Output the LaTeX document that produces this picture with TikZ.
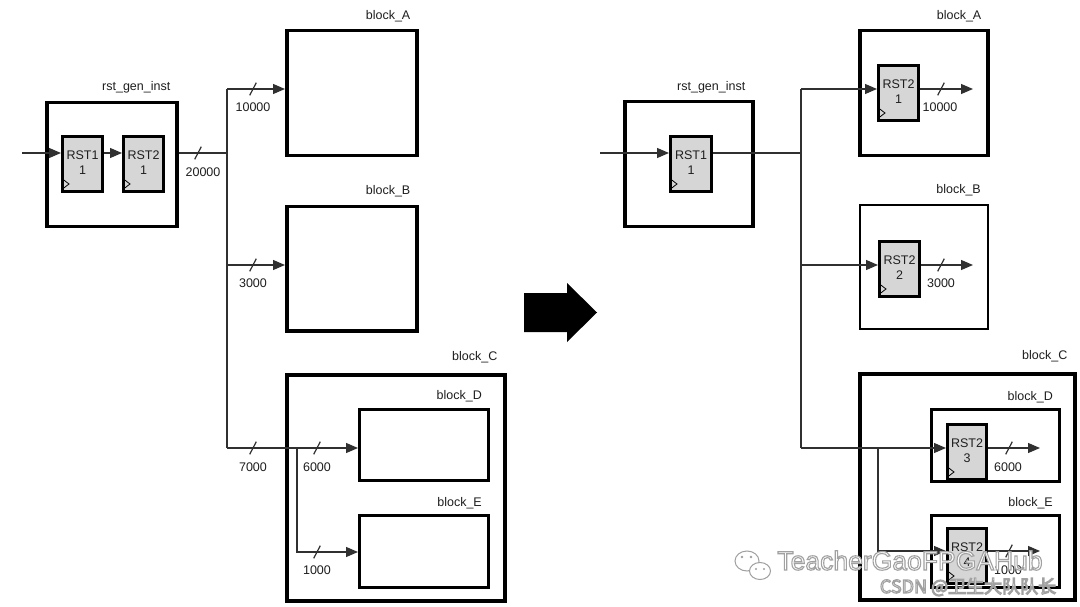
\documentclass[tikz,border=0pt]{standalone}
\usepackage{fontspec}
\setmainfont{Liberation Sans}
\newfontfamily\cjkfont{Noto Sans CJK SC}
\usetikzlibrary{arrows.meta,calc}
\definecolor{ink}{HTML}{1E1E1E}
\definecolor{ffgray}{HTML}{D6D6D6}
\definecolor{wirec}{HTML}{303030}
\definecolor{wmgray}{HTML}{A0A0A0}
\newcommand\fftext[2]{\raisebox{3pt}{\begin{tabular}{@{}c@{}}#1\\[0.5pt]#2\end{tabular}}}
\newcommand\clk[1]{\draw[line width=0.8pt] ([xshift=1.5pt,yshift=14pt]#1.south west) -- ([xshift=8pt,yshift=9pt]#1.south west) -- ([xshift=1.5pt,yshift=4pt]#1.south west);}
\newcommand\busslash[2]{\draw[wire] (#1-3.3,#2+6.3) -- (#1+3.3,#2-6.3);}
\newcommand\outlined[1]{\special{pdf:literal direct 2 Tr 1.1 w 0.63 G}#1\special{pdf:literal direct 0 Tr}}
\begin{document}
\begin{tikzpicture}[x=1pt,y=-1pt,
  font=\fontsize{12.5}{14}\selectfont,
  every node/.style={text=ink},
  blockbox/.style={draw=black, line width=3.5pt, inner sep=0pt, anchor=north west},
  subbox/.style={draw=black, line width=3pt, inner sep=0pt, anchor=north west},
  ffbox/.style={draw=black, fill=ffgray, line width=3pt, inner sep=0pt, anchor=north west, minimum width=40pt, minimum height=55pt},
  wire/.style={draw=wirec, line width=1.2pt},
  arr/.style={wire, -{Triangle[length=12pt,width=10pt]}},
  blabel/.style={anchor=east, inner sep=0pt},
  num/.style={inner sep=0pt},
  wmark/.style={anchor=base, inner sep=0pt, text=white}
]
\useasboundingbox (0,0) rectangle (1080,607);
\fill[white] (0,0) rectangle (1080,607);

% ================= LEFT =================
\node[blockbox, minimum width=130pt, minimum height=124pt] (G) at (45,101) {};
\node[blabel] at ([xshift=-8pt,yshift=13.5pt]G.north east) {rst\_gen\_inst};
\node[ffbox] (R1) at (61,135) {\fftext{RST1}{1}};
\node[ffbox] (R2) at (122,135) {\fftext{RST2}{1}};
\clk{R1}\clk{R2}

\node[blockbox, minimum width=130pt, minimum height=125pt] (A) at (285,29) {};
\node[blabel] at ([xshift=-8pt,yshift=13pt]A.north east) {block\_A};
\node[blockbox, minimum width=130pt, minimum height=124pt] (B) at (285,205) {};
\node[blabel] at ([xshift=-8pt,yshift=14pt]B.north east) {block\_B};
\node[blockbox, minimum width=218pt, minimum height=226pt] (C) at (285,373) {};
\node[blabel] at ([xshift=-9pt,yshift=15.5pt]C.north east) {block\_C};
\node[subbox, minimum width=129pt, minimum height=71pt] (D) at (358,408) {};
\node[blabel] at ([xshift=-8pt,yshift=11.5pt]D.north east) {block\_D};
\node[subbox, minimum width=129pt, minimum height=72pt] (E) at (358,514) {};
\node[blabel] at ([xshift=-8pt,yshift=11pt]E.north east) {block\_E};

\coordinate (in1) at (22,153);
\coordinate (J) at (227,153);
\coordinate (Ja) at (227,89);
\coordinate (Jb) at (227,265);
\coordinate (Jc) at (227,448);
\coordinate (Jd) at (297,448);
\coordinate (Je) at (297,552);

\draw[arr] (in1) -- (in1 -| R1.west);
\draw[arr] (R1.east |- in1) -- (R2.west |- in1);
\draw[wire] (G.east |- in1) -- (J);
\draw[wire] (Ja) -- (Jc);
\draw[arr] (Ja) -- (Ja -| A.west);
\draw[arr] (Jb) -- (Jb -| B.west);
\draw[arr] (Jc) -- (Jc -| D.west);
\draw[arr] (Jd) -- (Je) -- (Je -| E.west);

\busslash{198}{153}
\busslash{253}{89}
\busslash{253}{265}
\busslash{253}{448}
\busslash{317}{448}
\busslash{317}{552}
\node[num] (n20000) at (203,172) {20000};
\node[num] (n10000) at (253,107) {10000};
\node[num] (n3000) at (253,283) {3000};
\node[num] (n7000) at (253,467) {7000};
\node[num] (n6000) at (317,467) {6000};
\node[num] (n1000) at (317,570) {1000};

% ================= BIG ARROW =================
\fill[black] (524,293) -- (567,293) -- (567,283) -- (597,312.5) -- (567,342) -- (567,332) -- (524,332) -- cycle;

% ================= RIGHT =================
\node[blockbox, minimum width=128pt, minimum height=125pt] (G2) at (623,100) {};
\node[blabel] at ([xshift=-9pt,yshift=13pt]G2.north east) {rst\_gen\_inst};
\node[ffbox, minimum width=41pt] (S1) at (669,135) {\fftext{RST1}{1}};
\clk{S1}

\node[blockbox, minimum width=128pt, minimum height=125pt] (A2) at (858,29) {};
\node[blabel] at ([xshift=-8pt,yshift=13pt]A2.north east) {block\_A};
\node[ffbox] (SA) at (877,64) {\fftext{RST2}{1}};
\clk{SA}

\node[blockbox, line width=2pt, minimum width=128pt, minimum height=124pt] (B2) at (859,204) {};
\node[blabel] at ([xshift=-8pt,yshift=13.5pt]B2.north east) {block\_B};
\node[ffbox] (SB) at (878,240) {\fftext{RST2}{2}};
\clk{SB}

\node[blockbox, minimum width=215pt, minimum height=226pt] (C2) at (858,372) {};
\node[blabel] at ([xshift=-9pt,yshift=15.5pt]C2.north east) {block\_C};
\node[subbox, minimum width=128pt, minimum height=72pt] (D2) at (930,408) {};
\node[blabel] at ([xshift=-8pt,yshift=10.5pt]D2.north east) {block\_D};
\node[ffbox, minimum width=39pt] (SD) at (946,423) {\fftext{RST2}{3}};
\clk{SD}
\node[subbox, minimum width=128pt, minimum height=72pt] (E2) at (930,514) {};
\node[blabel] at ([xshift=-8pt,yshift=10.5pt]E2.north east) {block\_E};
\node[ffbox, minimum width=39pt] (SE) at (946,527) {\fftext{RST2}{4}};
\clk{SE}

\coordinate (in2) at (600,153);
\coordinate (K) at (801,153);
\coordinate (Ka) at (801,89);
\coordinate (Kb) at (801,265);
\coordinate (Kc) at (801,448);
\coordinate (Kd) at (878,448);
\coordinate (Ke) at (878,551);
\coordinate (oA) at (973,89);
\coordinate (oB) at (973,265);
\coordinate (oD) at (1040,448);
\coordinate (oE) at (1040,551);

\draw[arr] (in2) -- (in2 -| S1.west);
\draw[wire] (S1.east |- in2) -- (K);
\draw[wire] (Ka) -- (Kc);
\draw[arr] (Ka) -- (Ka -| SA.west);
\draw[arr] (Kb) -- (Kb -| SB.west);
\draw[arr] (Kc) -- (Kc -| SD.west);
\draw[arr] (Kd) -- (Ke) -- (Ke -| SE.west);
\draw[arr] (oA -| SA.east) -- (oA);
\draw[arr] (oB -| SB.east) -- (oB);
\draw[arr] (oD -| SD.east) -- (oD);
\draw[arr] (oE -| SE.east) -- (oE);

\busslash{941}{89}
\busslash{941}{265}
\busslash{1009}{448}
\busslash{1009}{551}
\node[num] (m10000) at (940,107) {10000};
\node[num] (m3000) at (941,283) {3000};
\node[num] (m6000) at (1008,467) {6000};
\node[num] (m1000) at (1008,570) {1000};

% ================= WATERMARK =================
\begin{scope}[draw=wmgray, line width=1pt]
  \draw[fill=white] (747,561) ellipse [x radius=12, y radius=10];
  \fill[wmgray] (742,557) circle (1.3); \fill[wmgray] (751,557) circle (1.3);
  \draw[fill=white] (760,571) ellipse [x radius=10.5, y radius=8.5];
  \fill[wmgray] (756,569) circle (1.1); \fill[wmgray] (764,569) circle (1.1);
\end{scope}
\node[wmark, font=\fontsize{26.5}{30}\selectfont] (wm1) at (910,570) {\outlined{TeacherGaoFPGAHub}};
\node[wmark, font=\fontsize{18}{20}\cjkfont] (wm2) at (968,593) {\outlined{CSDN @卫生大队队长}};
\end{tikzpicture}
\end{document}
